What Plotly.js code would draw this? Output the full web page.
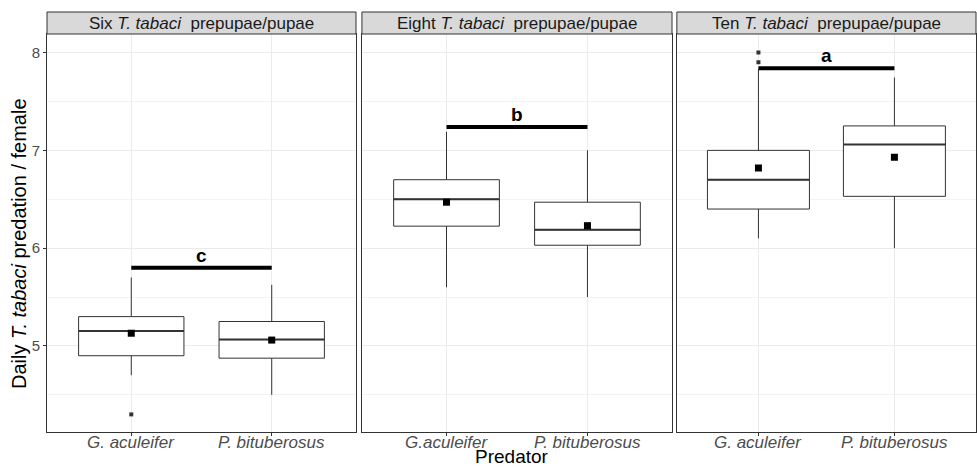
<!DOCTYPE html>
<html><head><meta charset="utf-8">
<script src="https://cdn.plot.ly/plotly-3.0.1.min.js"></script>
<style>body{margin:0;padding:0;background:#fff}#plot{width:977px;height:468px}</style>
</head><body><div id="plot"></div>
<script>
// Data
const panels = ["Six <i>T. tabaci</i>  prepupae/pupae", "Eight <i>T. tabaci</i>  prepupae/pupae", "Ten <i>T. tabaci</i>  prepupae/pupae"];
const tickLabels = [["G. aculeifer", "P. bituberosus"], ["G.aculeifer", "P. bituberosus"], ["G. aculeifer", "P. bituberosus"]];
const lowerWhisker = [[4.70, 4.50], [5.60, 5.50], [6.10, 6.00]];
const q1Vals = [[4.90, 4.875], [6.225, 6.03], [6.40, 6.53]];
const medianVals = [[5.153, 5.065], [6.50, 6.187], [6.70, 7.06]];
const q3Vals = [[5.30, 5.25], [6.70, 6.47], [7.00, 7.25]];
const upperWhisker = [[5.70, 5.625], [7.19, 7.00], [7.83, 7.745]];
const meanVals = [[5.13, 5.06], [6.47, 6.23], [6.82, 6.93]];
const outlierX = [[1], [], [1, 1]];
const outlierY = [[4.30], [], [8.00, 7.90]];
const sigY = [5.80, 7.24, 7.84];
const sigLetters = ["c", "b", "a"];

const domains = [[0, 0.3326], [0.339, 0.6728], [0.678, 1]];
const traces = [];
const shapes = [];
const annotations = [];
const FONT = 'Liberation Sans, Arial, sans-serif';
const layout = {
  width: 977, height: 468,
  margin: {l: 47, r: 1, t: 34, b: 36},
  paper_bgcolor: '#fff', plot_bgcolor: '#fff',
  showlegend: false,
  font: {family: FONT, color: '#4D4D4D'}
};

panels.forEach((title, i) => {
  const xa = i === 0 ? 'x' : 'x' + (i + 1);
  const ya = i === 0 ? 'y' : 'y' + (i + 1);
  const xk = i === 0 ? 'xaxis' : 'xaxis' + (i + 1);
  const yk = i === 0 ? 'yaxis' : 'yaxis' + (i + 1);
  layout[xk] = {
    domain: domains[i], anchor: ya, range: [0.4, 2.6], type: 'linear',
    tickvals: [1, 2], showticklabels: false,
    ticks: 'outside', ticklen: 3, tickcolor: '#333',
    showgrid: true, gridcolor: '#EBEBEB', gridwidth: 1,
    showline: true, mirror: true, linecolor: '#333', linewidth: 1, zeroline: false, fixedrange: true
  };
  layout[yk] = {
    domain: [0, 1], anchor: xa, range: [4.12, 8.19],
    tickvals: [5, 6, 7, 8], showticklabels: i === 0,
    tickfont: {size: 15, color: '#4D4D4D'}, ticks: i === 0 ? 'outside' : '', ticklen: 3, tickcolor: '#333',
    showgrid: true, gridcolor: '#EBEBEB', gridwidth: 1,
    minor: {tickvals: [4.5, 5.5, 6.5, 7.5], showgrid: true, gridcolor: '#F3F3F3', gridwidth: 1, ticks: ''},
    showline: true, mirror: true, linecolor: '#333', linewidth: 1, zeroline: false, fixedrange: true
  };
  if (i > 0) layout[yk].matches = 'y';

  traces.push({
    type: 'box', xaxis: xa, yaxis: ya, x: [1, 2],
    q1: q1Vals[i], median: medianVals[i], q3: q3Vals[i],
    lowerfence: lowerWhisker[i], upperfence: upperWhisker[i],
    width: 0.75, whiskerwidth: 0, boxpoints: false,
    fillcolor: '#FFFFFF', line: {color: '#333333', width: 1}, hoverinfo: 'skip'
  });
  // thicker medians
  [0, 1].forEach(j => {
    traces.push({
      type: 'scatter', mode: 'lines', xaxis: xa, yaxis: ya,
      x: [j + 1 - 0.375, j + 1 + 0.375], y: [medianVals[i][j], medianVals[i][j]],
      line: {color: '#333333', width: 2}, hoverinfo: 'skip'
    });
  });
  // outliers
  traces.push({
    type: 'scatter', mode: 'markers', xaxis: xa, yaxis: ya,
    x: outlierX[i], y: outlierY[i],
    marker: {symbol: 'square', size: 4, color: '#333333'}, hoverinfo: 'skip'
  });
  // means
  traces.push({
    type: 'scatter', mode: 'markers', xaxis: xa, yaxis: ya,
    x: [1, 2], y: meanVals[i],
    marker: {symbol: 'square', size: 7, color: '#000000'}, hoverinfo: 'skip'
  });
  // significance bar
  traces.push({
    type: 'scatter', mode: 'lines', xaxis: xa, yaxis: ya,
    x: [1, 2], y: [sigY[i], sigY[i]],
    line: {color: '#000000', width: 4}, hoverinfo: 'skip'
  });
  annotations.push({
    xref: xa, yref: ya, x: 1.5, y: sigY[i], yanchor: 'bottom', yshift: 0,
    text: '<b>' + sigLetters[i] + '</b>', showarrow: false,
    font: {size: 19, color: '#000000', family: FONT}
  });
  // x tick labels
  tickLabels[i].forEach((t, j) => {
    annotations.push({
      xref: xa, yref: 'paper', x: j + 1, y: 0, yanchor: 'top', yshift: 1,
      text: '<i>' + t + '</i>', showarrow: false,
      font: {size: 17, color: '#4D4D4D', family: FONT}
    });
  });
  // strip
  shapes.push({
    type: 'rect', xref: 'paper', yref: 'paper', x0: domains[i][0], x1: domains[i][1],
    y0: 1, y1: 1 + 22 / 398, fillcolor: '#D9D9D9', line: {color: '#333333', width: 1}
  });
  annotations.push({
    xref: 'paper', yref: 'paper', x: (domains[i][0] + domains[i][1]) / 2, y: 1 + 11 / 398,
    xanchor: 'center', yanchor: 'middle', text: title, showarrow: false,
    font: {size: 17, color: '#1A1A1A', family: FONT}
  });
});

annotations.push({
  xref: 'paper', yref: 'paper', x: 0.5, y: 0, yanchor: 'middle', yshift: -24,
  text: 'Predator', showarrow: false, font: {size: 19, color: '#000000', family: FONT}
});
annotations.push({
  xref: 'paper', yref: 'paper', x: 0, y: (432 - 244) / 398, xanchor: 'center', yanchor: 'middle', xshift: -28,
  textangle: -90, text: 'Daily <i>T. tabaci</i> predation / female', showarrow: false,
  font: {size: 20, color: '#000000', family: FONT}
});

layout.shapes = shapes;
layout.annotations = annotations;
Plotly.newPlot('plot', traces, layout, {staticPlot: true, displayModeBar: false});
</script>
</body></html>
